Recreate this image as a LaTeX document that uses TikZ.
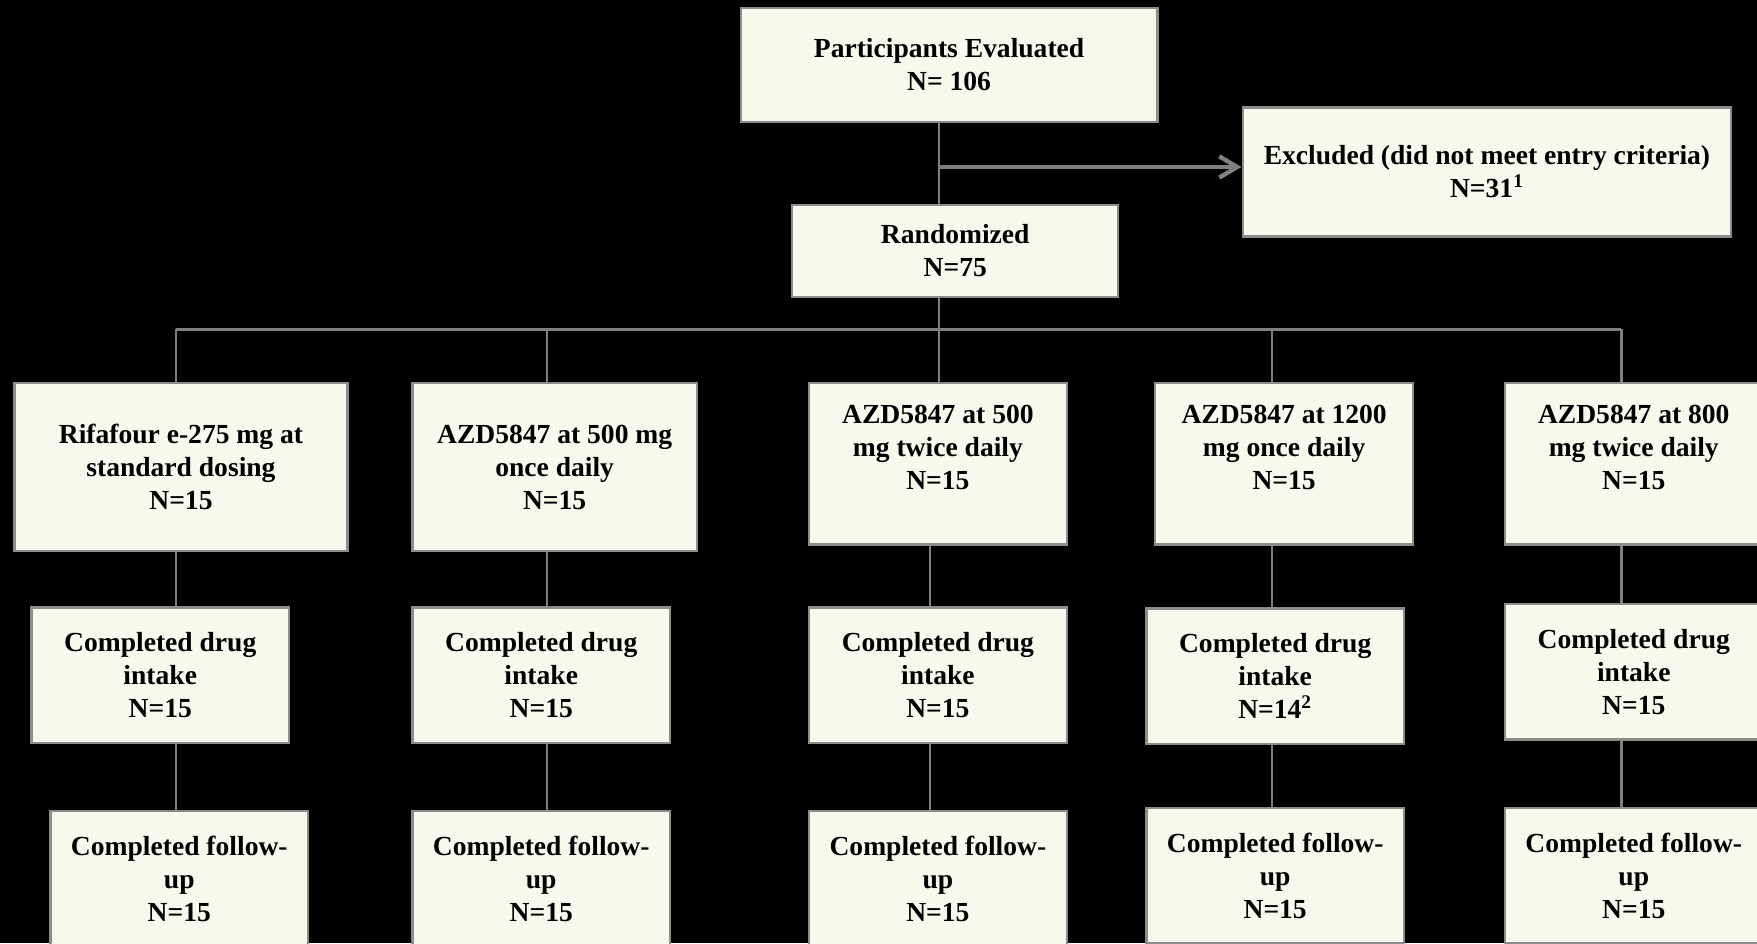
\documentclass[tikz,border=0pt]{standalone}
\usepackage{fontspec}
\setmainfont{Liberation Serif}
\usepackage{tikz}
\usetikzlibrary{arrows.meta}

\definecolor{boxfill}{RGB}{246,250,236}
\definecolor{boxline}{RGB}{140,140,140}
\definecolor{linkgray}{RGB}{128,128,128}

\begin{document}
\begin{tikzpicture}[
        flowbox/.style={draw=boxline, line width=1.2pt, fill=boxfill, align=center, inner sep=2pt,
            font=\fontsize{14}{16.7}\selectfont\bfseries},
        link/.style={draw=linkgray, line width=1.1pt}
    ]
        \useasboundingbox (0,0) rectangle (31.36,-16.84);
        \fill[black] (0,0) rectangle (31.36,-16.84);

        % Draw top boxes
        \node[flowbox, minimum width=7.44cm, minimum height=2.04cm] (eval) at (16.94,-1.16) {Participants Evaluated\\N= 106};
        \node[flowbox, minimum width=8.72cm, minimum height=2.30cm] (excl) at (26.54,-3.07) {Excluded (did not meet entry criteria)\\N=31\textsuperscript{1}};
        \node[flowbox, minimum width=5.82cm, minimum height=1.64cm] (rand) at (17.05,-4.48) {Randomized\\N=75};

        % Draw arm boxes
        \node[flowbox, minimum width=5.94cm, minimum height=3.00cm] (arm1) at (3.23,-8.34) {Rifafour e-275 mg at\\standard dosing\\N=15};
        \node[flowbox, minimum width=5.08cm, minimum height=3.00cm] (arm2) at (9.90,-8.34) {AZD5847 at 500 mg\\once daily\\N=15};
        \node[flowbox, minimum width=4.60cm, minimum height=2.88cm] (arm3) at (16.74,-8.28) {AZD5847 at 500\\mg twice daily\\N=15\\[-4.5pt]\strut};
        \node[flowbox, minimum width=4.60cm, minimum height=2.88cm] (arm4) at (22.92,-8.28) {AZD5847 at 1200\\mg once daily\\N=15\\[-4.5pt]\strut};
        \node[flowbox, minimum width=4.60cm, minimum height=2.88cm] (arm5) at (29.16,-8.28) {AZD5847 at 800\\mg twice daily\\N=15\\[-4.5pt]\strut};

        % Draw drug intake boxes
        \node[flowbox, minimum width=4.60cm, minimum height=2.42cm] (drug1) at (2.86,-12.05) {Completed drug\\intake\\N=15};
        \node[flowbox, minimum width=4.60cm, minimum height=2.42cm] (drug2) at (9.66,-12.05) {Completed drug\\intake\\N=15};
        \node[flowbox, minimum width=4.60cm, minimum height=2.42cm] (drug3) at (16.74,-12.05) {Completed drug\\intake\\N=15};
        \node[flowbox, minimum width=4.60cm, minimum height=2.42cm] (drug4) at (22.76,-12.07) {Completed drug\\intake\\N=14\textsuperscript{2}};
        \node[flowbox, minimum width=4.60cm, minimum height=2.42cm] (drug5) at (29.16,-11.99) {Completed drug\\intake\\N=15};

        % Draw follow-up boxes
        \node[flowbox, minimum width=4.60cm, minimum height=2.42cm] (follow1) at (3.20,-15.69) {Completed follow-\\up\\N=15};
        \node[flowbox, minimum width=4.60cm, minimum height=2.42cm] (follow2) at (9.66,-15.69) {Completed follow-\\up\\N=15};
        \node[flowbox, minimum width=4.60cm, minimum height=2.42cm] (follow3) at (16.74,-15.69) {Completed follow-\\up\\N=15};
        \node[flowbox, minimum width=4.60cm, minimum height=2.42cm] (follow4) at (22.76,-15.63) {Completed follow-\\up\\N=15};
        \node[flowbox, minimum width=4.60cm, minimum height=2.42cm] (follow5) at (29.16,-15.63) {Completed follow-\\up\\N=15};

        % Split and bus points
        \coordinate (split) at (16.76,-2.98);
        \coordinate (bus) at (16.76,-5.88);
        \coordinate (bus1) at (3.14,-5.88);
        \coordinate (bus2) at (9.76,-5.88);
        \coordinate (bus4) at (22.70,-5.88);
        \coordinate (bus5) at (28.94,-5.88);
        \coordinate (col3) at (16.60,-5.88);

        % Draw connectors
        \draw[link] (eval.south -| split) -- (rand.north -| split);
        \draw[link, line width=2.2pt, -{Straight Barb[length=3.2mm, width=3.8mm]}] (split) -- (split -| excl.west);
        \draw[link] (rand.south -| bus) -- (bus);
        \draw[link] (bus1) -- (bus5);

        \draw[link] (bus1) -- (arm1.north -| bus1);
        \draw[link] (bus2) -- (arm2.north -| bus2);
        \draw[link] (bus) -- (arm3.north -| bus);
        \draw[link] (bus4) -- (arm4.north -| bus4);
        \draw[link] (bus5) -- (arm5.north -| bus5);

        \draw[link] (arm1.south -| bus1) -- (drug1.north -| bus1);
        \draw[link] (arm2.south -| bus2) -- (drug2.north -| bus2);
        \draw[link] (arm3.south -| col3) -- (drug3.north -| col3);
        \draw[link] (arm4.south -| bus4) -- (drug4.north -| bus4);
        \draw[link] (arm5.south -| bus5) -- (drug5.north -| bus5);

        \draw[link] (drug1.south -| bus1) -- (follow1.north -| bus1);
        \draw[link] (drug2.south -| bus2) -- (follow2.north -| bus2);
        \draw[link] (drug3.south -| col3) -- (follow3.north -| col3);
        \draw[link] (drug4.south -| bus4) -- (follow4.north -| bus4);
        \draw[link] (drug5.south -| bus5) -- (follow5.north -| bus5);
\end{tikzpicture}
\end{document}
